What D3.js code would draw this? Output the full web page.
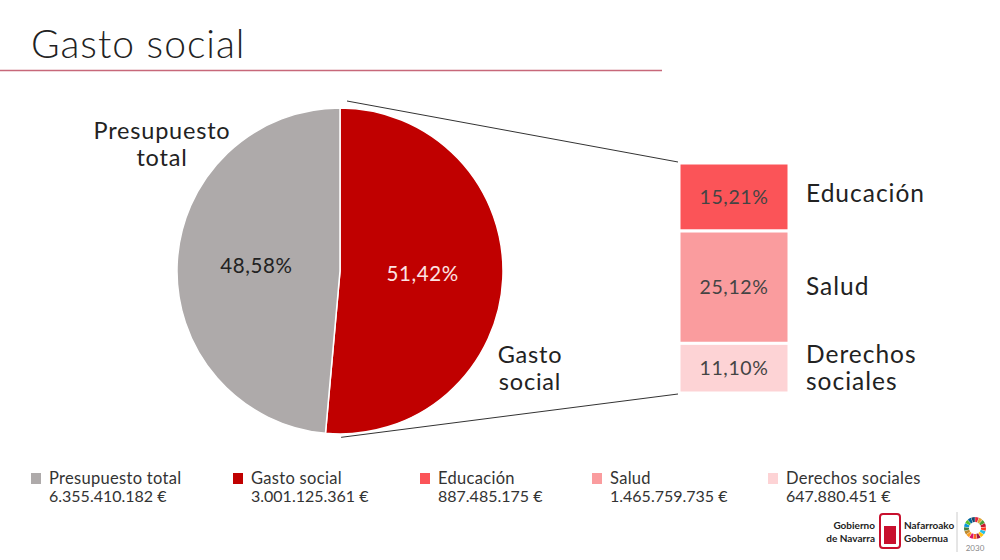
<!DOCTYPE html>
<html>
<head>
<meta charset="utf-8">
<script src="https://cdn.jsdelivr.net/npm/d3@7"></script>
<style>
  body { margin: 0; background: #fff; }
  svg text { font-family: "Century Gothic", Lato, "Open Sans", sans-serif; }
</style>
</head>
<body>
<div id="chart"></div>
<script>
// datos del gráfico
const pieNames = ["Gasto social", "Presupuesto total"];
const pieValues = [51.42, 48.58];
const pieColors = ["#c00000", "#aeaaaa"];

const barNames = ["Educación", "Salud", "Derechos sociales"];
const barValues = [15.21, 25.12, 11.10];
const barColors = ["#fb5458", "#fa9c9e", "#fdd3d5"];

const legendNames = ["Presupuesto total", "Gasto social", "Educación", "Salud", "Derechos sociales"];
const legendAmounts = ["6.355.410.182 €", "3.001.125.361  €", "887.485.175 €", "1.465.759.735  €", "647.880.451  €"];
const legendColors = ["#aeaaaa", "#c00000", "#fb5458", "#fa9c9e", "#fdd3d5"];

const fmt = v => d3.format(".2f")(v).replace(".", ",") + "%";

const width = 1000, height = 560;
const svg = d3.select("#chart").append("svg")
    .attr("width", width)
    .attr("height", height);

// título
svg.append("text")
    .attr("x", 31).attr("y", 58)
    .style("font-size", "39px")
    .style("font-weight", 300)
    .style("letter-spacing", "1px")
    .attr("fill", "#222")
    .text("Gasto social");

svg.append("line")
    .attr("x1", 0).attr("x2", 662)
    .attr("y1", 70.5).attr("y2", 70.5)
    .attr("stroke", "#c7687a")
    .attr("stroke-width", 1.3);

// tarta
const cx = 340, cy = 271, r = 163;
const pie = d3.pie().sort(null).value(d => d)(pieValues);
const arc = d3.arc().innerRadius(0).outerRadius(r);

const gPie = svg.append("g").attr("transform", `translate(${cx},${cy})`);
gPie.selectAll("path")
    .data(pie)
    .enter().append("path")
    .attr("d", arc)
    .attr("fill", (d, i) => pieColors[i])
    .attr("stroke", "#fff")
    .attr("stroke-width", 1.5);

const labelArc = d3.arc().innerRadius(r * 0.52).outerRadius(r * 0.52);
gPie.selectAll("text.pct")
    .data(pie)
    .enter().append("text")
    .attr("class", "pct")
    .attr("transform", d => {
        const c = labelArc.centroid(d);
        return `translate(${c[0] + (d.index === 0 ? -2 : 1)},${c[1] + 6})`;
    })
    .attr("text-anchor", "middle")
    .style("font-size", "20.5px")
    .style("letter-spacing", "0.6px")
    .attr("fill", (d, i) => i === 0 ? "#fde3e3" : "#222")
    .text(d => fmt(d.data));

// barra de desglose
const barX = 679, barW = 110, barTop = 163, barBottom = 393;
const y = d3.scaleLinear()
    .domain([0, d3.sum(barValues)])
    .range([barTop, barBottom]);
const cum = barValues.map((v, i) => d3.sum(barValues.slice(0, i)));

const gBar = svg.append("g");
gBar.selectAll("rect")
    .data(barValues)
    .enter().append("rect")
    .attr("x", barX)
    .attr("y", (d, i) => y(cum[i]))
    .attr("width", barW)
    .attr("height", d => y(d) - y(0))
    .attr("fill", (d, i) => barColors[i])
    .attr("stroke", "#fff")
    .attr("stroke-width", 3);

gBar.selectAll("text.bpct")
    .data(barValues)
    .enter().append("text")
    .attr("class", "bpct")
    .attr("x", barX + barW / 2)
    .attr("y", (d, i) => (y(cum[i]) + y(cum[i] + d)) / 2 + 7)
    .attr("text-anchor", "middle")
    .style("font-size", "19.5px")
    .style("letter-spacing", "0.6px")
    .attr("fill", "#444")
    .text(d => fmt(d));

// etiquetas de la barra
const barLabelLines = [["Educación"], ["Salud"], ["Derechos", "sociales"]];
barLabelLines.forEach((lines, i) => {
    const mid = (y(cum[i]) + y(cum[i] + barValues[i])) / 2;
    const t = svg.append("text")
        .attr("x", 806)
        .attr("y", mid + 8 - (lines.length - 1) * 13.5 - (i === 0 ? 3 : 0))
        .style("font-size", "24.5px")
        .style("letter-spacing", "1px")
        .attr("fill", "#222");
    lines.forEach((l, j) => t.append("tspan").attr("x", 806).attr("dy", j ? 27 : 0).text(l));
});

// líneas de conexión
const topPt = [cx + 7, cy - r - 7];
const endA = pie[0].endAngle;
const botPt = [cx + (r + 4) * Math.sin(endA) + 16, cy - (r + 4) * Math.cos(endA)];
svg.append("line")
    .attr("x1", topPt[0]).attr("y1", topPt[1])
    .attr("x2", barX - 1).attr("y2", barTop - 1)
    .attr("stroke", "#333").attr("stroke-width", 1);
svg.append("line")
    .attr("x1", botPt[0]).attr("y1", botPt[1])
    .attr("x2", barX - 1).attr("y2", barBottom + 1)
    .attr("stroke", "#333").attr("stroke-width", 1);

// etiquetas de la tarta
const pieLabel = (lines, x, y0) => {
    const t = svg.append("text")
        .attr("x", x).attr("y", y0)
        .attr("text-anchor", "middle")
        .style("font-size", "23.5px")
        .style("letter-spacing", "0.8px")
        .attr("fill", "#222");
    lines.forEach((l, j) => t.append("tspan").attr("x", x).attr("dy", j ? 27 : 0).text(l));
};
pieLabel(["Presupuesto", "total"], 162, 139);
pieLabel(["Gasto", "social"], 530, 363);

// leyenda
const legendX = [31, 233, 420, 592, 768];
const gLeg = svg.append("g");
legendNames.forEach((n, i) => {
    gLeg.append("rect")
        .attr("x", legendX[i]).attr("y", 473)
        .attr("width", 10).attr("height", 11)
        .attr("fill", legendColors[i]);
    gLeg.append("text")
        .attr("x", legendX[i] + 18).attr("y", 484)
        .style("font-size", "16.5px")
        .style("letter-spacing", "0.3px")
        .attr("fill", "#333")
        .text(n);
    gLeg.append("text")
        .attr("x", legendX[i] + 18).attr("y", 502)
        .style("font-size", "16px")
        .attr("fill", "#333")
        .text(legendAmounts[i]);
});

// logotipos
const gLogo = svg.append("g").attr("font-family", "Liberation Sans, Arial, sans-serif");
gLogo.append("text").attr("x", 875).attr("y", 529).attr("text-anchor", "end")
    .style("font-size", "10px").style("font-weight", "bold").attr("fill", "#222").text("Gobierno");
gLogo.append("text").attr("x", 875).attr("y", 542).attr("text-anchor", "end")
    .style("font-size", "10px").style("font-weight", "bold").attr("fill", "#222").text("de Navarra");
gLogo.append("rect").attr("x", 880).attr("y", 514).attr("width", 20).attr("height", 34)
    .attr("rx", 3).attr("fill", "#fff").attr("stroke", "#c8102e").attr("stroke-width", 2);
gLogo.append("rect").attr("x", 884).attr("y", 526).attr("width", 12).attr("height", 18).attr("fill", "#c8102e");
gLogo.append("text").attr("x", 904).attr("y", 529)
    .style("font-size", "10px").style("font-weight", "bold").attr("fill", "#222").text("Nafarroako");
gLogo.append("text").attr("x", 904).attr("y", 542)
    .style("font-size", "10px").style("font-weight", "bold").attr("fill", "#222").text("Gobernua");
gLogo.append("line").attr("x1", 957).attr("x2", 957).attr("y1", 512).attr("y2", 552)
    .attr("stroke", "#ccc");
const sdg = ["#e5243b", "#dda63a", "#4c9f38", "#c5192d", "#ff3a21", "#26bde2", "#fcc30b", "#a21942",
    "#fd6925", "#dd1367", "#fd9d24", "#bf8b2e", "#3f7e44", "#0a97d9", "#56c02b", "#00689d", "#19486a"];
const ring = d3.pie().value(1).sort(null)(sdg);
const ringArc = d3.arc().innerRadius(6).outerRadius(11).padAngle(0.03);
gLogo.append("g").attr("transform", "translate(975,528)")
    .selectAll("path").data(ring).enter().append("path")
    .attr("d", ringArc).attr("fill", (d, i) => sdg[i]);
gLogo.append("text").attr("x", 975).attr("y", 551).attr("text-anchor", "middle")
    .style("font-size", "8px").attr("fill", "#888").text("2030");
</script>
</body>
</html>
